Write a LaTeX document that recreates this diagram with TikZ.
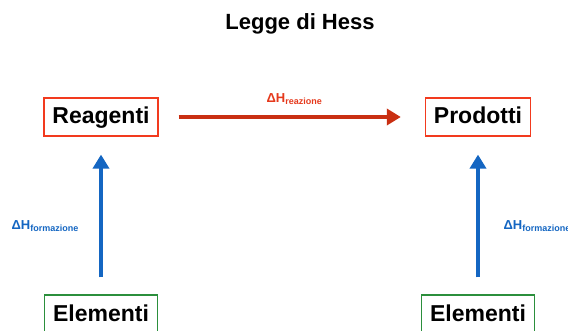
\documentclass[tikz,border=0pt]{standalone}
\usepackage{fontspec}
\setmainfont{Liberation Sans}
\usepackage{tikz}
\usetikzlibrary{arrows.meta}
\definecolor{boxred}{HTML}{F23A1E}
\definecolor{arrowred}{HTML}{C92F12}
\definecolor{labelred}{HTML}{E5391C}
\definecolor{formblue}{HTML}{1466C2}
\definecolor{boxgreen}{HTML}{2B8F3C}
\tikzset{
  species/.style={draw,line width=1.2pt,inner xsep=8.5pt,minimum height=38pt,
    text height=17pt,text depth=3pt,font=\fontsize{23}{23}\selectfont\bfseries},
  bigarrow/.style={line width=4pt,-{Triangle[length=14pt,width=16pt]}},
  deltalabel/.style={font=\fontsize{13}{13}\selectfont\bfseries}
}
\newcommand{\dH}[1]{ΔH\raisebox{-2.5pt}{\fontsize{9}{9}\selectfont\bfseries #1}}

\begin{document}
\begin{tikzpicture}[x=1pt,y=1pt]
  \useasboundingbox (0,0) rectangle (568,330);
  \node[font=\fontsize{22}{22}\selectfont\bfseries] (title) at (300,306) {Legge di Hess};
  \node[species,boxred] (reag) at (101,213) {\color{black}Reagenti};
  \node[species,boxred] (prod) at (478,213) {\color{black}Prodotti};
  \node[species,boxgreen] (elemL) at (101,16) {\color{black}Elementi};
  \node[species,boxgreen] (elemR) at (478,16) {\color{black}Elementi};
  \draw[bigarrow,arrowred,shorten <=20pt,shorten >=24pt] (reag) -- (prod);
  \draw[bigarrow,formblue,shorten <=17pt,shorten >=18pt] (elemL.north) -- (reag.south);
  \draw[bigarrow,formblue,shorten <=17pt,shorten >=18pt] (elemR.north) -- (prod.south);
  \node[deltalabel,labelred,anchor=west] (dhr) at (263,231) {\dH{reazione}};
  \node[deltalabel,formblue] (dhfL) at (45,104) {\dH{formazione}};
  \node[deltalabel,formblue,anchor=west] (dhfR) at (500,104) {\dH{formazione}};
\end{tikzpicture}
\end{document}
